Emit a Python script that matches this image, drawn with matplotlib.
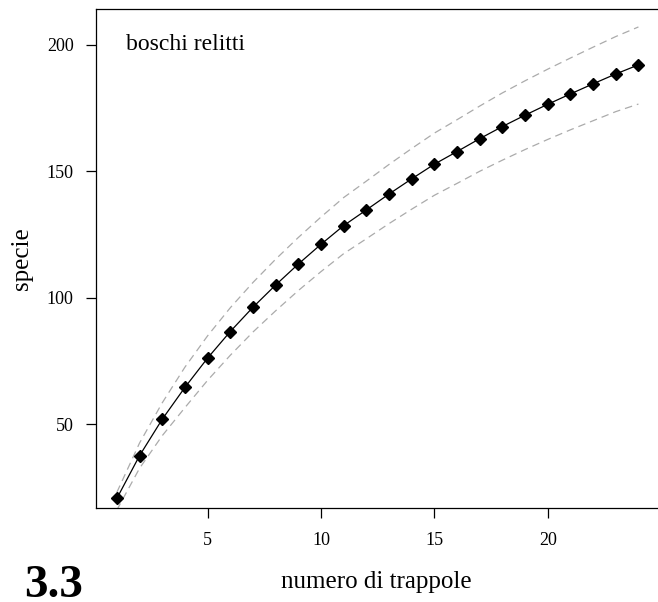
import matplotlib
matplotlib.use("Agg")
import matplotlib.pyplot as plt

# ---- data ----
trappole = list(range(1, 25))
specie = [20.6, 37.5, 51.9, 64.5, 76.1, 86.6, 96.2, 105.0, 113.3, 121.1,
          128.5, 134.7, 141.0, 147.0, 152.8, 157.8, 162.9, 167.7, 172.2,
          176.5, 180.6, 184.6, 188.5, 192.1]
upper = [23.0, 42.5, 58.4, 72.5, 84.9, 96.0, 106.0, 115.2, 123.8, 131.9,
         139.6, 146.1, 152.7, 159.0, 165.1, 170.4, 175.8, 181.0, 185.8,
         190.4, 194.8, 199.1, 203.3, 207.1]
lower = [16.0, 32.5, 45.4, 56.5, 67.3, 77.2, 86.4, 94.8, 102.8, 110.3,
         117.4, 123.3, 129.3, 135.0, 140.5, 145.2, 150.0, 154.4, 158.6,
         162.6, 166.4, 170.0, 173.6, 176.6]
xticks = [5, 10, 15, 20]
yticks = [50, 100, 150, 200]
titolo = "boschi relitti"
xlabel = "numero di trappole"
ylabel = "specie"
pannello = "3.3"

plt.rcParams['font.family'] = ['Liberation Serif', 'DejaVu Serif']

W, H = 658, 602
fig = plt.figure(figsize=(W / 100, H / 100), dpi=100)
left, right, top, bottom = 96, 659.3, 9, 508
ax = fig.add_axes([left / W, (H - bottom) / H, (right - left) / W, (bottom - top) / H])

ax.plot(trappole, upper, color='#ababab', lw=0.9, dashes=(6, 4))
ax.plot(trappole, lower, color='#ababab', lw=0.9, dashes=(6, 4))
ax.plot(trappole, specie, color='black', lw=0.9, marker='D', ms=6.0,
        mfc='black', mec='black')

ax.set_xlim(0.08, 24.92)
ax.set_ylim(16.8, 214.2)
ax.set_xticks(xticks)
ax.set_yticks(yticks)
ax.tick_params(axis='both', direction='out', length=7.5, width=0.9,
               labelsize=13, color='black')
ax.tick_params(axis='x', pad=10)
ax.tick_params(axis='y', pad=8.5)
for s in ax.spines.values():
    s.set_linewidth(0.9)
    s.set_color('black')

ax.text(1.4, 200, titolo, fontsize=17, ha='left', va='center')

fig.text(376 / W, 1 - 582 / H, xlabel, fontsize=18, ha='center', va='center')
fig.text(22 / W, 1 - 258.5 / H, ylabel, fontsize=18, ha='center', va='center',
         rotation=90)
fig.text(24 / W, 1 - 597 / H, pannello, fontsize=34, fontweight='bold',
         ha='left', va='baseline')

fig.savefig("out.png", dpi=100)
